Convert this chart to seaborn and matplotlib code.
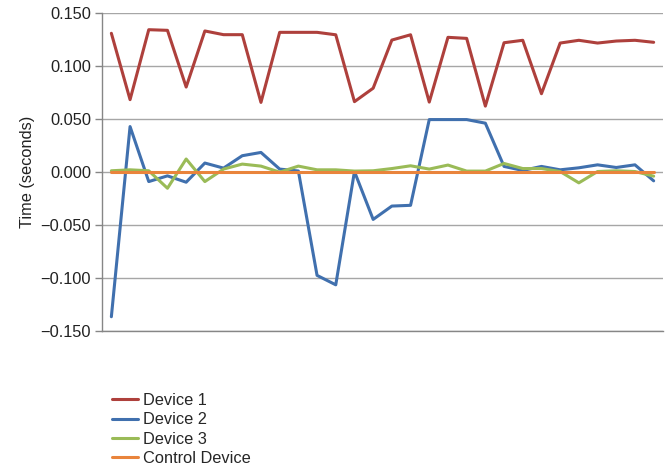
import matplotlib
matplotlib.use("Agg")
import matplotlib.pyplot as plt
import seaborn as sns
import pandas as pd
import numpy as np

# Timing offsets (seconds) per sample for each device
device_1 = [0.1304, 0.0678, 0.1338, 0.1332, 0.0797, 0.1326, 0.1291, 0.1291, 0.0652, 0.1313,
            0.1313, 0.1313, 0.1290, 0.0659, 0.0786, 0.1240, 0.1290, 0.0655, 0.1266, 0.1256,
            0.0617, 0.1215, 0.1238, 0.0734, 0.1212, 0.1238, 0.1212, 0.1231, 0.1238, 0.1219]
device_2 = [-0.1370, 0.0424, -0.0095, -0.0041, -0.0101, 0.0080, 0.0032, 0.0149, 0.0180, 0.0023,
            0.0005, -0.0980, -0.1069, 0.0000, -0.0452, -0.0326, -0.0319, 0.0490, 0.0490, 0.0490,
            0.0456, 0.0048, 0.0010, 0.0048, 0.0016, 0.0035, 0.0063, 0.0038, 0.0063, -0.0088]
device_3 = [0.0007, 0.0016, 0.0007, -0.0158, 0.0118, -0.0095, 0.0023, 0.0070, 0.0051, -0.0006,
            0.0051, 0.0016, 0.0016, 0.0004, 0.0007, 0.0028, 0.0054, 0.0023, 0.0061, 0.0004,
            0.0004, 0.0076, 0.0028, 0.0028, 0.0000, -0.0107, 0.0000, 0.0007, 0.0000, -0.0044]
control_device = [0.0] * 30

series_names = ["Device 1", "Device 2", "Device 3", "Control Device"]
series_values = [device_1, device_2, device_3, control_device]
series_colors = ["#AE403C", "#4070AE", "#9ABB57", "#E9843C"]

y_ticks = [-0.150, -0.100, -0.050, 0.000, 0.050, 0.100, 0.150]

frames = []
for name, vals in zip(series_names, series_values):
    frames.append(pd.DataFrame({"sample": np.arange(len(vals)), "time": vals, "device": name}))
df = pd.concat(frames, ignore_index=True)

sns.set_style("white")
plt.rcParams["font.family"] = ["Liberation Sans", "DejaVu Sans"]
FS = 11.8

fig = plt.figure(figsize=(6.65, 4.69), dpi=100)
ax = fig.add_axes([0.1534, 0.2953, 0.8436, 0.678])

sns.lineplot(data=df, x="sample", y="time", hue="device", hue_order=series_names,
             palette=series_colors, linewidth=2.2, ax=ax, legend=False, sort=False)

ax.set_xlim(-0.5, len(device_1) - 0.5)
ax.set_ylim(-0.150, 0.150)
ax.set_yticks(y_ticks)
ax.set_yticklabels([f"{v:.3f}".replace("-", "\u2212") for v in y_ticks], fontsize=FS, color="#222222")
ax.set_xticks([])
ax.set_xlabel("")
ax.set_ylabel("Time (seconds)", fontsize=FS, color="#222222", labelpad=4)

ax.grid(axis="y", color="#A6A6A6", linewidth=1.0)
ax.set_axisbelow(True)
for side in ["top", "right"]:
    ax.spines[side].set_visible(False)
for side in ["left", "bottom"]:
    ax.spines[side].set_color("#868686")
    ax.spines[side].set_linewidth(1.0)
ax.tick_params(axis="y", which="major", direction="out", length=5, width=1,
               color="#868686", left=True, pad=3)

handles = [plt.Line2D([], [], color=c, linewidth=2.2) for c in series_colors]
fig.legend(handles, series_names, loc="upper left", bbox_to_anchor=(0.168, 0.162),
           frameon=False, fontsize=FS, handlelength=1.6, handletextpad=0.3,
           labelspacing=0.26, borderaxespad=0, borderpad=0)

fig.savefig("out.png", dpi=100)
